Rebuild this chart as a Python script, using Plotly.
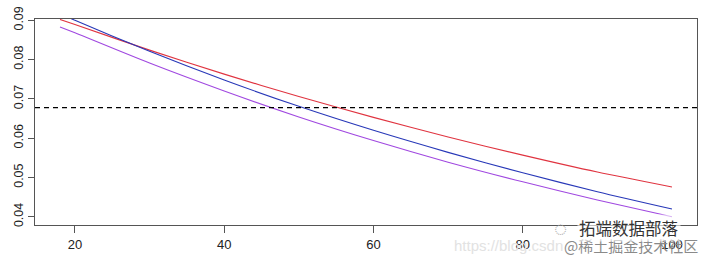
import plotly.graph_objects as go

# data
x_vals = [18, 20, 30, 40, 50, 60, 70, 80, 90, 100]
red_vals = [0.0902, 0.0889, 0.0824, 0.0763, 0.0706, 0.0653, 0.0603, 0.0557, 0.0514, 0.0476]
blue_vals = [0.0917, 0.0900, 0.0821, 0.0748, 0.0681, 0.0620, 0.0564, 0.0512, 0.0464, 0.0420]
purple_vals = [0.0883, 0.0868, 0.0791, 0.0720, 0.0654, 0.0594, 0.0539, 0.0489, 0.0443, 0.0400]
threshold = 0.0678
x_ticks = [20, 40, 60, 80, 100]
y_ticks = [0.04, 0.05, 0.06, 0.07, 0.08, 0.09]

fig = go.Figure()
for vals, col in [(red_vals, "#E03440"), (blue_vals, "#2838B8"), (purple_vals, "#A048E0")]:
    fig.add_trace(go.Scatter(x=x_vals, y=vals, mode="lines",
                             line=dict(color=col, width=1.1, shape="spline", smoothing=0.8),
                             showlegend=False, hoverinfo="skip"))

fig.add_shape(type="line", xref="paper", yref="y", x0=0, x1=1, y0=threshold, y1=threshold,
              line=dict(color="black", width=1.2, dash="5px,4px"))

fig.update_layout(
    width=704, height=258,
    margin=dict(l=35, r=6, t=16, b=33),
    paper_bgcolor="white", plot_bgcolor="white",
    font=dict(family="Liberation Sans, Arial, sans-serif", color="#222", size=12),
)
fig.update_xaxes(range=[14.65, 103.35], tickvals=x_ticks, ticktext=[str(v) for v in x_ticks],
                 showgrid=False, zeroline=False, showline=True, mirror=True,
                 linecolor="#555", linewidth=1, ticks="outside", ticklen=7, tickcolor="#555",
                 tickfont=dict(size=13))
fig.update_yaxes(range=[0.03792, 0.09032], tickvals=y_ticks, ticktext=[f"{v:.2f}" for v in y_ticks],
                 showgrid=False, zeroline=False, showline=True, mirror=True,
                 linecolor="#555", linewidth=1, ticks="outside", ticklen=6, tickcolor="#555",
                 tickangle=-90, tickfont=dict(size=12.5))

# watermark texts (paper coords: plot area spans px 35..698, 16..225)
def px(xp):
    return (xp - 35) / 663.0

def py(yp):
    return (225 - yp) / 209.0

fig.add_annotation(text="https://blog.csdn", xref="paper", x=px(453), xanchor="left",
                   yref="paper", y=py(246), yanchor="middle", showarrow=False,
                   font=dict(size=15, color="#e2e2e2"))
fig.add_annotation(text="@稀土掘金技术社区", xref="paper", x=px(701), xanchor="right",
                   yref="paper", y=py(246), yanchor="middle", showarrow=False,
                   font=dict(family="Noto Sans CJK SC", size=15, color="#8a8a8a"))
fig.add_annotation(text="拓端数据部落", xref="paper", x=px(578), xanchor="left",
                   yref="paper", y=py(228), yanchor="middle", showarrow=False,
                   bgcolor="rgba(255,255,255,0.6)",
                   font=dict(family="Noto Sans CJK SC", size=16.5, color="#333"))
fig.add_annotation(text="◌", xref="paper", x=px(561), xanchor="center",
                   yref="paper", y=py(229), yanchor="middle", showarrow=False,
                   font=dict(size=22, color="#aaa"))

fig.write_html("out.html")
